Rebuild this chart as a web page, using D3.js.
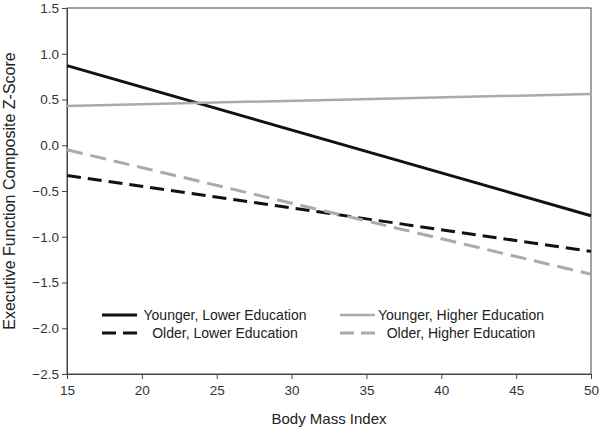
<!DOCTYPE html>
<html>
<head>
<meta charset="utf-8">
<script src="https://cdn.jsdelivr.net/npm/d3@7"></script>
<style>
  body { margin: 0; background: #fff; }
  svg { font-family: "Liberation Sans", Arial, sans-serif; }
</style>
</head>
<body>
<svg id="chart" width="601" height="436"></svg>
<script>
// BMI endpoints and predicted z-scores for each group
var bmi = [15, 50];
var youngerLower = [0.87, -0.77];
var youngerHigher = [0.43, 0.56];
var olderLower = [-0.33, -1.16];
var olderHigher = [-0.05, -1.41];
var xTicks = [15, 20, 25, 30, 35, 40, 45, 50];
var yTicks = [1.5, 1.0, 0.5, 0.0, -0.5, -1.0, -1.5, -2.0, -2.5];

var series = [
  { name: "Younger, Lower Education", values: youngerLower, color: "#111", dash: null, width: 3 },
  { name: "Younger, Higher Education", values: youngerHigher, color: "#aaa", dash: null, width: 2.5 },
  { name: "Older, Lower Education", values: olderLower, color: "#111", dash: "14,7", width: 3 },
  { name: "Older, Higher Education", values: olderHigher, color: "#aaa", dash: "16,8", width: 3 }
];

var svg = d3.select("#chart");
// plot area edges (note: "top" is a reserved window global)
var pLeft = 67, pRight = 591, pTop = 8, pBottom = 374;

var x = d3.scaleLinear().domain([15, 50]).range([pLeft, pRight]);
var y = d3.scaleLinear().domain([-2.5, 1.5]).range([pBottom, pTop]);

// frame
svg.append("rect")
  .attr("x", pLeft).attr("y", pTop)
  .attr("width", pRight - pLeft).attr("height", pBottom - pTop)
  .attr("fill", "none").attr("stroke", "#444").attr("stroke-width", 1);

var xAxis = svg.append("g")
  .attr("transform", "translate(0," + pBottom + ")")
  .call(d3.axisBottom(x).tickValues(xTicks).tickSize(5).tickSizeOuter(0).tickFormat(d3.format("d")));
var yAxis = svg.append("g")
  .attr("transform", "translate(" + pLeft + ",0)")
  .call(d3.axisLeft(y).tickValues(yTicks).tickSize(5).tickSizeOuter(0).tickFormat(d3.format(".1f")));

[xAxis, yAxis].forEach(function(a) {
  a.select(".domain").attr("stroke", "#444");
  a.selectAll(".tick line").attr("stroke", "#444");
  a.selectAll(".tick text").attr("fill", "#333").style("font-size", "13.5px")
    .style("font-family", "'Liberation Sans', Arial, sans-serif");
});
xAxis.selectAll(".tick text").attr("dy", "0.95em");
yAxis.selectAll(".tick text").attr("x", -8);

var line = d3.line()
  .x(function(d, i) { return x(bmi[i]); })
  .y(function(d) { return y(d); });

svg.selectAll("path.series")
  .data(series)
  .enter().append("path")
  .attr("class", "series")
  .attr("d", function(d) { return line(d.values); })
  .attr("fill", "none")
  .attr("stroke", function(d) { return d.color; })
  .attr("stroke-width", function(d) { return d.width; })
  .attr("stroke-dasharray", function(d) { return d.dash; });

// legend, two columns
var legendPos = [
  { lx: 102, tx: 225, y: 315 },
  { lx: 340, tx: 461, y: 315 },
  { lx: 102, tx: 225, y: 333 },
  { lx: 340, tx: 461, y: 333 }
];

var legend = svg.selectAll("g.legend")
  .data(series)
  .enter().append("g")
  .attr("class", "legend");

legend.append("line")
  .attr("x1", function(d, i) { return legendPos[i].lx; })
  .attr("x2", function(d, i) { return legendPos[i].lx + 35; })
  .attr("y1", function(d, i) { return legendPos[i].y; })
  .attr("y2", function(d, i) { return legendPos[i].y; })
  .attr("stroke", function(d) { return d.color; })
  .attr("stroke-width", function(d) { return d.width; })
  .attr("stroke-dasharray", function(d) { return d.dash ? "14,7" : null; });

legend.append("text")
  .attr("x", function(d, i) { return legendPos[i].tx; })
  .attr("y", function(d, i) { return legendPos[i].y; })
  .attr("dy", ".35em")
  .attr("text-anchor", "middle")
  .attr("fill", "#222")
  .style("font-size", "14px")
  .text(function(d) { return d.name; });

// axis titles
svg.append("text")
  .attr("x", (pLeft + pRight) / 2).attr("y", 424)
  .attr("text-anchor", "middle").attr("fill", "#222")
  .style("font-size", "15px")
  .text("Body Mass Index");

svg.append("text")
  .attr("transform", "translate(15," + ((pTop + pBottom) / 2) + ") rotate(-90)")
  .attr("text-anchor", "middle").attr("fill", "#222")
  .style("font-size", "16px")
  .text("Executive Function Composite Z-Score");
</script>
</body>
</html>
